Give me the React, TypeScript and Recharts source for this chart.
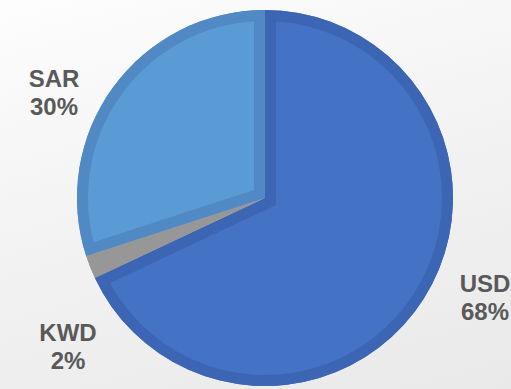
import React from 'react';
import { PieChart, Pie, Cell, Sector } from 'recharts';

// Data (clockwise from 12 o'clock)
const categories = ['USD', 'KWD', 'SAR'];
const shares = [68, 2, 30];
const labelTexts = ['68%', '2%', '30%'];

// Styles
const fills = ['#4472C4', '#A3A3A3', '#5B9BD5'];
const borders = ['#3C66B4', '#979797', '#5089C4'];
// label baselines (layout only)
const labelAnchors: Record<string, { x: number; y: number }> = {
  USD: { x: 485, y: 292 },
  KWD: { x: 68, y: 341 },
  SAR: { x: 54, y: 87 },
};

const data = categories.map((name, i) => ({ name, value: shares[i], label: labelTexts[i] }));

const BORDER = 11;

const textStyle = {
  fill: '#595959',
  fontFamily: "'Liberation Sans', Arial, sans-serif",
  fontWeight: 700,
  fontSize: 24,
} as const;

const renderSliceDecor = (props: any) => {
  const { cx, cy, innerRadius, outerRadius, startAngle, endAngle, index } = props;
  const name = categories[index];
  const pos = labelAnchors[name];
  const clipId = `slice-clip-${index}`;
  return (
    <g key={`decor-${index}`}>
      <defs>
        <clipPath id={clipId}>
          <Sector
            cx={cx}
            cy={cy}
            innerRadius={innerRadius}
            outerRadius={outerRadius}
            startAngle={startAngle}
            endAngle={endAngle}
          />
        </clipPath>
      </defs>
      <g clipPath={`url(#${clipId})`}>
        <Sector
          cx={cx}
          cy={cy}
          innerRadius={innerRadius}
          outerRadius={outerRadius}
          startAngle={startAngle}
          endAngle={endAngle}
          fill="none"
          stroke={borders[index]}
          strokeWidth={BORDER * 2}
          strokeLinejoin="miter"
        />
      </g>
      <text x={pos.x} y={pos.y} textAnchor="middle" style={textStyle}>
        {name}
      </text>
      <text x={pos.x} y={pos.y + 28} textAnchor="middle" style={textStyle}>
        {data[index].label}
      </text>
    </g>
  );
};

export default function App() {
  return (
    <div
      style={{
        position: 'absolute',
        left: 0,
        top: 0,
        width: 511,
        height: 389,
        overflow: 'hidden',
        background: 'linear-gradient(165deg, #fdfdfd 0%, #f3f3f3 45%, #e9e9e9 100%)',
      }}
    >
      <PieChart width={511} height={389} margin={{ top: 0, right: 0, bottom: 0, left: 0 }}>
        <Pie
          data={data}
          dataKey="value"
          nameKey="name"
          cx={265}
          cy={198}
          outerRadius={188}
          innerRadius={0}
          startAngle={90}
          endAngle={-270}
          stroke="none"
          label={renderSliceDecor}
          labelLine={false}
          isAnimationActive={false}
        >
          {data.map((d, i) => (
            <Cell key={d.name} fill={fills[i]} stroke="none" />
          ))}
        </Pie>
      </PieChart>
    </div>
  );
}
